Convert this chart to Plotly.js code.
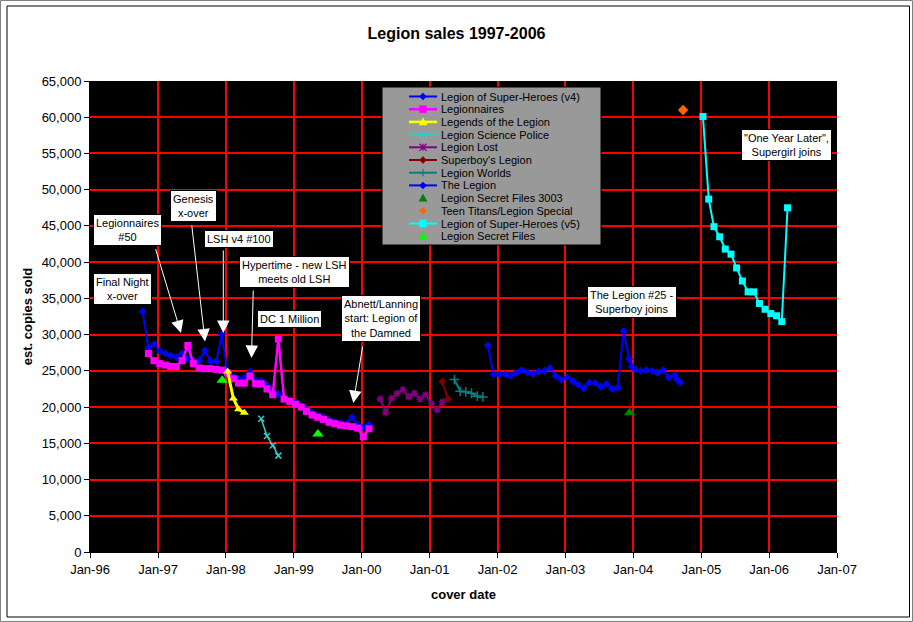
<!DOCTYPE html>
<html>
<head>
<meta charset="utf-8">
<script src="https://cdn.plot.ly/plotly-3.0.1.min.js"></script>
<style>
html,body{margin:0;padding:0;background:#ffffff;}
#chart{width:913px;height:622px;}
</style>
</head>
<body>
<div id="chart"></div>
<script>
// ---------------- DATA ----------------
const seriesNames = [
  'Legion of Super-Heroes (v4)', 'Legionnaires', 'Legends of the Legion',
  'Legion Science Police', 'Legion Lost', "Superboy's Legion", 'Legion Worlds',
  'The Legion', 'Legion Secret Files 3003', 'Teen Titans/Legion Special',
  'Legion of Super-Heroes (v5)', 'Legion Secret Files'
];

const lshV4Dates = [
  '1996-10-10','1996-11-10','1996-12-10',
  '1997-01-10','1997-02-10','1997-03-10','1997-04-10','1997-05-10','1997-06-10',
  '1997-07-10','1997-08-10','1997-09-10','1997-10-10','1997-11-10','1997-12-10',
  '1998-01-10','1998-02-10','1998-03-10','1998-04-10','1998-05-10','1998-06-10',
  '1998-07-10','1998-08-10','1998-09-10','1998-10-10','1998-11-10','1998-12-10',
  '1999-01-10','1999-02-10','1999-03-10','1999-04-10','1999-05-10','1999-06-10',
  '1999-07-10','1999-08-10','1999-09-10','1999-10-10','1999-11-10','1999-12-10',
  '2000-01-10','2000-02-10'
];
const lshV4Sales = [
  33200, 28200, 28700,
  27700, 27400, 27100, 26900, 27400, 26700, 26400, 26400, 27800, 26300, 26300, 30000,
  24800, 24200, 23900, 24000, 24900, 23700, 23600, 23000, 22200, 21800, 21300, 21000,
  20600, 20200, 19700, 19200, 18900, 18600, 18200, 18000, 17800, 17700, 18600, 17600,
  17200, 17600
];

const legionnairesDates = [
  '1996-11-10','1996-12-10',
  '1997-01-10','1997-02-10','1997-03-10','1997-04-10','1997-05-10','1997-06-10',
  '1997-07-10','1997-08-10','1997-09-10','1997-10-10','1997-11-10','1997-12-10',
  '1998-01-10','1998-02-10','1998-03-10','1998-04-10','1998-05-10','1998-06-10',
  '1998-07-10','1998-08-10','1998-09-10','1998-10-10','1998-11-10','1998-12-10',
  '1999-01-10','1999-02-10','1999-03-10','1999-04-10','1999-05-10','1999-06-10',
  '1999-07-10','1999-08-10','1999-09-10','1999-10-10','1999-11-10','1999-12-10',
  '2000-01-10','2000-02-10'
];
const legionnairesSales = [
  27400, 26400,
  26000, 25800, 25600, 25600, 26400, 28500, 26000, 25400, 25300, 25300, 25200, 25100,
  24700, 23900, 23300, 23300, 24300, 23200, 23200, 22500, 21700, 29400, 21100, 20800,
  20400, 20000, 19400, 18900, 18600, 18300, 17900, 17700, 17500, 17400, 17300, 17100,
  15900, 17000
];

const legendsDates = ['1998-01-10','1998-02-10','1998-03-10','1998-04-10'];
const legendsSales = [24900, 21200, 19700, 19200];

const sciencePoliceDates = ['1998-07-10','1998-08-10','1998-09-10','1998-10-10'];
const sciencePoliceSales = [18400, 16000, 14700, 13300];

const legionLostDates = [
  '2000-04-10','2000-05-10','2000-06-10','2000-07-10','2000-08-10','2000-09-10',
  '2000-10-10','2000-11-10','2000-12-10','2001-01-10','2001-02-10','2001-03-10'
];
const legionLostSales = [21100, 19200, 21200, 21900, 22400, 21400, 21900, 21100, 21700, 20500, 19600, 20700];

const superboysDates = ['2001-03-10','2001-04-10'];
const superboysSales = [23500, 21100];

const worldsDates = ['2001-05-14','2001-06-14','2001-07-14','2001-08-14','2001-09-14','2001-10-14'];
const worldsSales = [23800, 22200, 22100, 21900, 21500, 21400];

const theLegionDates = [
  '2001-11-10','2001-12-10',
  '2002-01-10','2002-02-10','2002-03-10','2002-04-10','2002-05-10','2002-06-10',
  '2002-07-10','2002-08-10','2002-09-10','2002-10-10','2002-11-10','2002-12-10',
  '2003-01-10','2003-02-10','2003-03-10','2003-04-10','2003-05-10','2003-06-10',
  '2003-07-10','2003-08-10','2003-09-10','2003-10-10','2003-11-10','2003-12-10','2003-12-24',
  '2004-01-10','2004-02-10','2004-03-10','2004-04-10','2004-05-10','2004-06-10',
  '2004-07-10','2004-08-10','2004-08-24','2004-09-10'
];
const theLegionSales = [
  28500, 24500,
  24500, 24500, 24300, 24700, 25100, 24800, 24600, 24900, 25000, 25400, 24300, 23800,
  24100, 23600, 23100, 22600, 23400, 23300, 22800, 23200, 22500, 22700, 30500, 26600, 25600,
  25200, 25000, 25100, 25000, 24700, 25100, 24100, 24400, 23800, 23400
];

const secretFiles3003Dates = ['2003-12-12'];
const secretFiles3003Sales = [19200];

const teenTitansDates = ['2004-09-25'];
const teenTitansSales = [61000];

const lshV5Dates = [
  '2005-01-10','2005-02-10','2005-03-10','2005-04-10','2005-05-10','2005-06-10',
  '2005-07-10','2005-08-10','2005-09-10','2005-10-10','2005-11-10','2005-12-10',
  '2006-01-10','2006-02-10','2006-03-10','2006-04-10'
];
const lshV5Sales = [60100, 48700, 44900, 43500, 41800, 41100, 39200, 37400, 35900, 35900, 34300, 33500, 32900, 32600, 31800, 47500];

const secretFilesDates = ['1997-12-12','1999-05-11'];
const secretFilesSales = [23700, 16300];

const xTickStart = '1996-01-01';
const xRange = ['1996-01-01', '2007-01-01'];
const yRange = [0, 65000];

const calloutTexts = [
  'Final Night<br>x-over',
  'Legionnaires<br>#50',
  'Genesis<br>x-over',
  'LSH v4 #100',
  'Hypertime - new LSH<br>meets old LSH',
  'DC 1 Million',
  'Abnett/Lanning<br>start: Legion of<br>the Damned',
  'The Legion #25 -<br>Superboy joins',
  '"One Year Later",<br>Supergirl joins'
];

// ---------------- STYLES ----------------
const FONT = 'Liberation Sans, Arial, sans-serif';
const styles = [
  {color:'#0000FF', mode:'lines+markers', lw:2,   sym:'diamond',     ms:6},
  {color:'#FF00FF', mode:'lines+markers', lw:2.5, sym:'square',      ms:7},
  {color:'#FFFF00', mode:'lines+markers', lw:3,   sym:'triangle-up', ms:8},
  {color:'#33CCCC', mode:'lines+markers', lw:1.5, sym:'x-thin',      ms:6, open:true},
  {color:'#800080', mode:'lines+markers', lw:2,   sym:'asterisk',    ms:6, open:true},
  {color:'#800000', mode:'lines+markers', lw:2,   sym:'diamond',     ms:6},
  {color:'#008080', mode:'lines+markers', lw:2,   sym:'cross-thin',  ms:7, open:true},
  {color:'#0000FF', mode:'lines+markers', lw:2,   sym:'diamond',     ms:6},
  {color:'#008000', mode:'markers',       lw:0,   sym:'triangle-up', ms:10},
  {color:'#FF6600', mode:'markers',       lw:0,   sym:'diamond',     ms:8},
  {color:'#00FFFF', mode:'lines+markers', lw:2,   sym:'square',      ms:7},
  {color:'#00FF00', mode:'markers',       lw:0,   sym:'triangle-up', ms:10}
];
const seriesX = [lshV4Dates, legionnairesDates, legendsDates, sciencePoliceDates, legionLostDates,
  superboysDates, worldsDates, theLegionDates, secretFiles3003Dates, teenTitansDates, lshV5Dates, secretFilesDates];
const seriesY = [lshV4Sales, legionnairesSales, legendsSales, sciencePoliceSales, legionLostSales,
  superboysSales, worldsSales, theLegionSales, secretFiles3003Sales, teenTitansSales, lshV5Sales, secretFilesSales];

const traces = seriesNames.map((name, i) => {
  const s = styles[i];
  const t = {
    type:'scatter', name:name, x:seriesX[i], y:seriesY[i], mode:s.mode,
    marker:{symbol:s.sym, size:s.ms, color:s.color,
      line: s.open ? {color:s.color, width:1.5} : {width:0}},
    showlegend:false, hoverinfo:'x+y+name'
  };
  if (s.mode.indexOf('lines') >= 0) t.line = {color:s.color, width:s.lw};
  return t;
});

// ---------------- LAYOUT HELPERS (pixel -> paper) ----------------
const PL = 90, PR = 837, PT = 81, PB = 552;
const P = px => (px - PL) / (PR - PL);
const Q = py => (PB - py) / (PB - PT);

const shapes = [];
// chart frame
shapes.push({type:'rect', xref:'paper', yref:'paper', x0:P(0.5), x1:P(912.5), y0:Q(0.5), y1:Q(621.5),
  line:{color:'#808080', width:1}, fillcolor:'rgba(0,0,0,0)', layer:'above'});
shapes.push({type:'rect', xref:'paper', yref:'paper', x0:P(7), x1:P(909.5), y0:Q(6), y1:Q(617),
  line:{color:'#000000', width:1}, fillcolor:'rgba(0,0,0,0)', layer:'above'});

// custom legend
const LX0 = 382, LY0 = 87, LX1 = 601, LY1 = 245;
shapes.push({type:'rect', xref:'paper', yref:'paper', x0:P(LX0), x1:P(LX1), y0:Q(LY0), y1:Q(LY1),
  line:{color:'#000000', width:1}, fillcolor:'#999999', layer:'above'});

function markerPath(sym, cx, cy, s) {
  const pt = (x, y) => P(x).toFixed(5) + ',' + Q(y).toFixed(5);
  switch (sym) {
    case 'diamond':
      return 'M' + pt(cx, cy - s) + 'L' + pt(cx + s, cy) + 'L' + pt(cx, cy + s) + 'L' + pt(cx - s, cy) + 'Z';
    case 'square':
      return 'M' + pt(cx - s, cy - s) + 'L' + pt(cx + s, cy - s) + 'L' + pt(cx + s, cy + s) + 'L' + pt(cx - s, cy + s) + 'Z';
    case 'triangle-up':
      return 'M' + pt(cx, cy - s) + 'L' + pt(cx + s, cy + s * 0.8) + 'L' + pt(cx - s, cy + s * 0.8) + 'Z';
    case 'x-thin':
      return 'M' + pt(cx - s, cy - s) + 'L' + pt(cx + s, cy + s) + 'M' + pt(cx - s, cy + s) + 'L' + pt(cx + s, cy - s);
    case 'cross-thin':
      return 'M' + pt(cx - s, cy) + 'L' + pt(cx + s, cy) + 'M' + pt(cx, cy - s) + 'L' + pt(cx, cy + s);
    case 'asterisk':
      return 'M' + pt(cx - s, cy - s) + 'L' + pt(cx + s, cy + s) + 'M' + pt(cx - s, cy + s) + 'L' + pt(cx + s, cy - s) +
             'M' + pt(cx, cy - s) + 'L' + pt(cx, cy + s);
  }
  return '';
}

const annotations = [];
const rowY0 = 96.5, rowStep = 12.7;
seriesNames.forEach((name, i) => {
  const s = styles[i];
  const ry = rowY0 + i * rowStep;
  if (s.mode.indexOf('lines') >= 0) {
    shapes.push({type:'line', xref:'paper', yref:'paper', x0:P(409), x1:P(437), y0:Q(ry), y1:Q(ry),
      line:{color:s.color, width:Math.min(s.lw, 2.5)}, layer:'above'});
  }
  const half = s.sym === 'triangle-up' ? 4 : 3.5;
  const filled = !s.open;
  shapes.push({type:'path', xref:'paper', yref:'paper', path:markerPath(s.sym, 423, ry, half),
    fillcolor: filled ? s.color : 'rgba(0,0,0,0)', line:{color:s.color, width: filled ? 0.5 : 1.2}, layer:'above'});
  annotations.push({xref:'paper', yref:'paper', x:P(438.5), y:Q(ry), xanchor:'left', yanchor:'middle',
    text:name, showarrow:false, font:{family:FONT, size:11, color:'#000000'}});
});

// callout boxes (centre positions in pixels)
const calloutPos = [
  [122, 289], [127, 230], [193.5, 206], [239, 239], [294, 271.5],
  [289, 319], [381, 318], [632, 302], [786, 144.5]
];
calloutTexts.forEach((txt, i) => {
  annotations.push({xref:'paper', yref:'paper', x:P(calloutPos[i][0]), y:Q(calloutPos[i][1]),
    xanchor:'center', yanchor:'middle', text:txt, showarrow:false,
    font:{family:FONT, size:11, color:'#000000'}, bgcolor:'#FFFFFF',
    bordercolor:'#000000', borderwidth:1, borderpad:2});
});

// arrows: [tipX, tipY, startX, startY] in pixels
const arrows = [
  [181, 333, 155, 247],
  [205, 341.5, 191.5, 223],
  [223.3, 333, 223.3, 248.5],
  [251.5, 358, 253.3, 288.5],
  [353.3, 403, 363, 344.5]
];
arrows.forEach(a => {
  annotations.push({xref:'paper', yref:'paper', x:P(a[0]), y:Q(a[1]), ax:a[2] - a[0], ay:a[3] - a[1],
    axref:'pixel', ayref:'pixel', text:' ', showarrow:true, arrowhead:2, arrowsize:2.5,
    arrowwidth:1, arrowcolor:'#FFFFFF', standoff:0, startstandoff:0, font:{size:1}});
});

const layout = {
  width:913, height:622,
  margin:{l:PL, r:913 - PR, t:PT, b:622 - PB, pad:0},
  paper_bgcolor:'#FFFFFF', plot_bgcolor:'#000000',
  showlegend:false,
  font:{family:FONT, size:13, color:'#000000'},
  title:{text:'Legion sales 1997-2006', x:0.5, xref:'container', xanchor:'center',
    y:1 - 33 / 622, yref:'container', yanchor:'middle',
    font:{family:FONT, size:16, weight:'bold', color:'#000000'}},
  xaxis:{
    type:'date', range:xRange, tick0:xTickStart, dtick:'M12', tickformat:'%b-%y',
    showgrid:true, gridcolor:'#FF0000', gridwidth:1.5, zeroline:false,
    showline:true, linecolor:'#000000', linewidth:1,
    ticks:'outside', ticklen:5, tickcolor:'#000000', tickwidth:1,
    tickfont:{family:FONT, size:13, color:'#000000'},
    title:{text:'cover date', standoff:14, font:{family:FONT, size:13, weight:'bold', color:'#000000'}},
    fixedrange:true
  },
  yaxis:{
    range:yRange, dtick:5000, tick0:0, tickformat:',',
    showgrid:true, gridcolor:'#FF0000', gridwidth:1.5, zeroline:false,
    showline:true, linecolor:'#000000', linewidth:1,
    ticks:'outside', ticklen:5, tickcolor:'#000000', tickwidth:1,
    tickfont:{family:FONT, size:13, color:'#000000'},
    title:{text:'est. copies sold', standoff:6, font:{family:FONT, size:13, weight:'bold', color:'#000000'}},
    fixedrange:true
  },
  shapes:shapes,
  annotations:annotations
};

Plotly.newPlot('chart', traces, layout, {displayModeBar:false});
</script>
</body>
</html>
